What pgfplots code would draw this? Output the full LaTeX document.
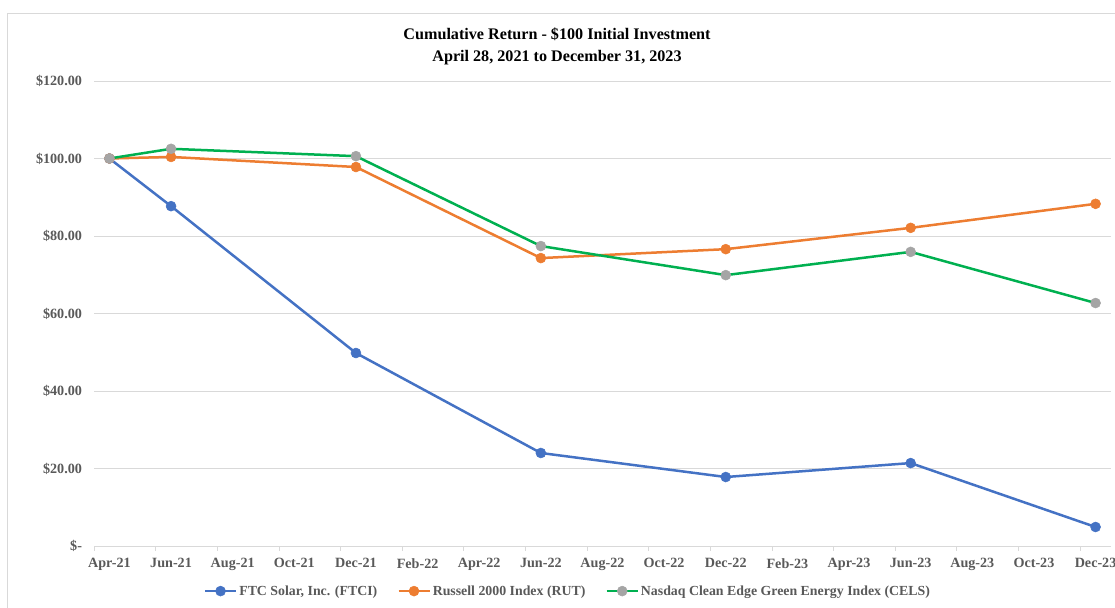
\documentclass[border=0pt]{standalone}
\usepackage{fontspec}
\setmainfont{Liberation Serif}
\usepackage{pgfplots}
\pgfplotsset{compat=1.18}
\definecolor{ftci}{HTML}{4472C4}
\definecolor{rut}{HTML}{ED7D31}
\definecolor{cels}{HTML}{00B050}
\definecolor{mk}{HTML}{A5A5A5}
\definecolor{gridc}{HTML}{D9D9D9}
\definecolor{tickc}{HTML}{595959}
\begin{document}
\begin{tikzpicture}[x=1bp,y=1bp]
\path[use as bounding box] (0,0) rectangle (1115,608);
\draw[gridc, line width=0.8bp] (7,0) -- (7,595) -- (1115,595);
\node[font=\fontsize{16.2}{22}\selectfont\bfseries, align=center] at (557,562) {Cumulative Return - \$100 Initial Investment\\April 28, 2021 to December 31, 2023};
\begin{axis}[
  at={(94bp,62bp)}, anchor=south west,
  scale only axis, width=1017bp, height=465bp,
  xmin=-0.5, xmax=32.5, ymin=0, ymax=120,
  axis x line*=bottom, axis y line*=left,
  x axis line style={draw=gridc, line width=0.8bp, -},
  y axis line style={draw=none},
  ytick={0,20,...,120},
  yticklabels={\$-,\$20.00,\$40.00,\$60.00,\$80.00,\$100.00,\$120.00},
  xtick={0,2,...,32},
  xticklabels={Apr-21,Jun-21,Aug-21,Oct-21,Dec-21,Feb-22,Apr-22,Jun-22,Aug-22,Oct-22,Dec-22,Feb-23,Apr-23,Jun-23,Aug-23,Oct-23,Dec-23},
  minor xtick={-0.5,1.5,...,32.5},
  major tick length=0pt, minor tick length=5bp,
  tick align=outside,
  minor tick style={draw=gridc, line width=0.8bp},
  major tick style={draw=none},
  ymajorgrids, major grid style={draw=gridc, line width=0.8bp},
  tick label style={font=\fontsize{14.2}{16}\selectfont\bfseries, text=tickc},
  yticklabel style={anchor=east, xshift=-8.5bp},
  xticklabel style={anchor=north, yshift=-9bp},
  legend columns=3,
  legend style={at={(0.466,-0.097)}, anchor=center, draw=none, fill=none,
    font=\fontsize{13.9}{16}\selectfont\bfseries, text=tickc,
    /tikz/every even column/.append style={column sep=18bp}},
  legend image code/.code={\draw[mark repeat=2,mark phase=2,#1] plot coordinates {(0bp,0bp) (15.5bp,0bp) (31bp,0bp)};},
]
\addplot[ftci, line width=2.5bp, mark=*, mark size=5bp, mark options={solid, fill=ftci, draw=ftci, line width=0.5bp}] coordinates {(0,100) (2,87.7) (8,49.8) (14,24.0) (20,17.8) (26,21.4) (32,4.9)};
\addlegendentry{FTC Solar, Inc. (FTCI)}
\addplot[rut, line width=2.5bp, mark=*, mark size=5bp, mark options={solid, fill=rut, draw=rut, line width=0.5bp}] coordinates {(0,100) (2,100.4) (8,97.8) (14,74.3) (20,76.6) (26,82.1) (32,88.3)};
\addlegendentry{Russell 2000 Index (RUT)}
\addplot[cels, line width=2.5bp, mark=*, mark size=5bp, mark options={solid, fill=mk, draw=mk, line width=0.5bp}] coordinates {(0,100) (2,102.5) (8,100.6) (14,77.4) (20,69.9) (26,75.9) (32,62.7)};
\addlegendentry{Nasdaq Clean Edge Green Energy Index (CELS)}
\end{axis}
\end{tikzpicture}
\end{document}
